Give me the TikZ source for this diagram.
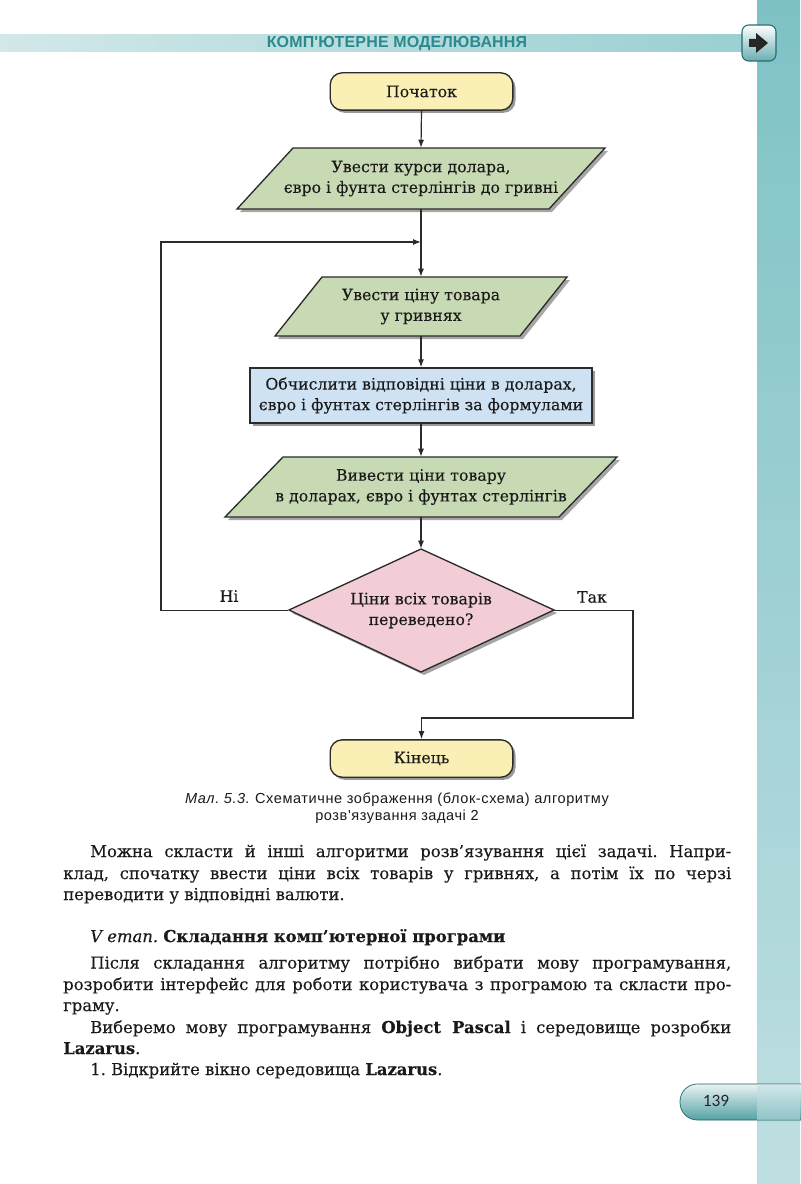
\documentclass[tikz,border=0pt]{standalone}
\usepackage{fontspec}
\setmainfont{DejaVu Serif}[FakeBold=0.2]
\newfontfamily\capfont{Liberation Sans}[LetterSpace=4]
\newfontfamily\hdrfont{Liberation Sans}[LetterSpace=1]
\newfontfamily\numfont{Carlito}
\usetikzlibrary{arrows.meta,shapes.geometric,calc,shadows}
\definecolor{termfill}{HTML}{FAF0B6}
\definecolor{iofill}{HTML}{C8DAB4}
\definecolor{procfill}{HTML}{CFE2F4}
\definecolor{decfill}{HTML}{F2CDD6}
\definecolor{linec}{HTML}{2B2B2B}
\definecolor{headc}{HTML}{2A8A8E}
\definecolor{stripTop}{HTML}{7EC2C5}
\definecolor{stripBot}{HTML}{BFDFE2}
\definecolor{bandL}{HTML}{D2E8E9}
\definecolor{bandR}{HTML}{9ACFD1}
\definecolor{inkc}{HTML}{1A1A1A}
\frenchspacing
\tikzset{
  flowtext/.style={font=\fontsize{11.8}{15.5}\selectfont, align=center, text=inkc, inner sep=0pt},
  conn/.style={draw=linec, line width=0.9pt, -{Latex[length=6pt,width=4.5pt]}},
  shapeline/.style={draw=linec, line width=1pt},
  shadowfill/.style={fill=black, opacity=0.35},
  term/.style={flowtext, rounded corners=9pt, minimum width=137pt, minimum height=28pt,
    fill=termfill, draw=linec, line width=1pt,
    drop shadow={shadow xshift=2pt, shadow yshift=-2pt, opacity=0.4, fill=black}},
  proc/.style={flowtext, minimum width=256.5pt, minimum height=41.25pt,
    fill=procfill, draw=linec, line width=1pt,
    drop shadow={shadow xshift=2.2pt, shadow yshift=-2.2pt, opacity=0.4, fill=black}},
  holder/.style={flowtext},
  body/.style={anchor=base west, inner sep=0pt, text=inkc, font=\fontsize{12.3}{15}\selectfont},
  lbl/.style={font=\fontsize{11.8}{13}\selectfont, text=inkc, inner sep=0pt}
}
\begin{document}
\begin{tikzpicture}[x=0.75pt,y=-0.75pt]
\useasboundingbox (0,0) rectangle (800,1184);
\fill[white] (0,0) rectangle (800,1184);

% header band and right strip
\shade[left color=bandL, right color=bandR] (0,35) rectangle (757,52);
\shade[top color=stripTop, bottom color=stripBot] (757,0) rectangle (800,1184);
\node[font=\hdrfont\bfseries\fontsize{12}{13}\selectfont, text=headc, inner sep=0pt] (hdr) at (397,44) {КОМП'ЮТЕРНЕ МОДЕЛЮВАННЯ};

% arrow button
\shade[rounded corners=5pt, top color=white, bottom color=headc!70, draw=headc!80!black, line width=0.8pt] (742,25) rectangle (776,61);
\fill[black!85] (749,39) -- (756,39) -- (756,33) -- (768,43) -- (756,53) -- (756,47) -- (749,47) -- cycle;

% page number tab
\shade[rounded corners=13pt, top color=white!90!headc, bottom color=headc!80, draw=headc!70!black, line width=0.5pt] (680,1084) rectangle (840,1120);
\fill[stripBot, opacity=0.55] (757,1084) rectangle (800,1120);
\node[font=\numfont\fontsize{13}{14}\selectfont, text=black!85, inner sep=0pt] (pg) at (716,1101) {139};

% ---- flowchart ----
\node[term] (start) at (421.5,91.5) {Початок};

\fill[shadowfill, shift={(3,3)}] (293,148) -- (605,148) -- (549,209) -- (237,209) -- cycle;
\path[fill=iofill, shapeline] (293,148) -- (605,148) -- (549,209) -- (237,209) -- cycle;
\node[holder, minimum height=45.75pt] (in1) at (421,178.5) {Увести курси долара,\\ євро і фунта стерлінгів до гривні};

\fill[shadowfill, shift={(3,3)}] (322,277) -- (567,277) -- (520,336) -- (275,336) -- cycle;
\path[fill=iofill, shapeline] (322,277) -- (567,277) -- (520,336) -- (275,336) -- cycle;
\node[holder, minimum height=44.25pt] (in2) at (421,306.5) {Увести ціну товара\\ у гривнях};

\node[proc] (calc) at (421,395.5) {Обчислити відповідні ціни в доларах,\\ євро і фунтах стерлінгів за формулами};

\fill[shadowfill, shift={(3,3)}] (283,457) -- (617,457) -- (559,517) -- (225,517) -- cycle;
\path[fill=iofill, shapeline] (283,457) -- (617,457) -- (559,517) -- (225,517) -- cycle;
\node[holder, minimum height=45pt] (out) at (421,487) {Вивести ціни товару\\ в доларах, євро і фунтах стерлінгів};

\fill[shadowfill, shift={(3,3)}] (421,549) -- (554,610) -- (421,672) -- (289,610) -- cycle;
\path[fill=decfill, shapeline] (421,549) -- (554,610) -- (421,672) -- (289,610) -- cycle;
\node[holder, minimum height=92.25pt, minimum width=198.75pt] (dec) at (421,610.5) {Ціни всіх товарів\\ переведено?};

\node[term] (stop) at (421.5,758.5) {Кінець};

% connectors
\draw[conn] (start.south) -- (in1.north);
\draw[conn] (in1.south) -- (in2.north);
\draw[conn] (in2.south) -- (calc.north);
\draw[conn] (calc.south) -- (out.north);
\draw[conn] (out.south) -- (dec.north);
\coordinate (loopA) at (161,610.5);
\coordinate (loopB) at (161,242);
\coordinate (joinP) at (421,242);
\draw[conn] (dec.west) -- (loopA) -- (loopB) -- (joinP);
\coordinate (yesA) at (633,610.5);
\coordinate (yesB) at (633,718);
\coordinate (yesC) at (421.5,718);
\draw[conn] (dec.east) -- (yesA) -- (yesB) -- (yesC) -- (stop.north);

\node[lbl] (no) at (229,596) {Ні};
\node[lbl] (yes) at (592,597) {Так};

% caption
\node[font=\capfont\fontsize{10.9}{12.8}\selectfont, align=center, text=inkc, inner sep=0pt] (cap) at (397,808.5) {\textit{Мал. 5.3.} Схематичне зображення (блок-схема) алгоритму\\ розв'язування задачі 2};

% body text
\node[body] (l1) at (90,857) {\makebox[480.75pt][s]{Можна скласти й інші алгоритми розв’язування цієї задачі. Напри-}};
\node[body] (l2) at (63,879) {\makebox[501pt][s]{клад, спочатку ввести ціни всіх товарів у гривнях, а потім їх по черзі}};
\node[body] (l3) at (63,900) {переводити у відповідні валюти.};
\node[body] (l4) at (90,942) {\textit{V етап.} \textbf{Складання комп’ютерної програми}};
\node[body] (l5) at (90,968.5) {\makebox[480.75pt][s]{Після складання алгоритму потрібно вибрати мову програмування,}};
\node[body] (l6) at (63,990) {\makebox[501pt][s]{розробити інтерфейс для роботи користувача з програмою та скласти про-}};
\node[body] (l7) at (63,1011) {граму.};
\node[body] (l8) at (90,1033) {\makebox[480.75pt][s]{Виберемо мову програмування \textbf{Object Pascal} і середовище розробки}};
\node[body] (l9) at (63,1054) {\textbf{Lazarus}.};
\node[body] (l10) at (90,1075) {1. Відкрийте вікно середовища \textbf{Lazarus}.};
\end{tikzpicture}
\end{document}
